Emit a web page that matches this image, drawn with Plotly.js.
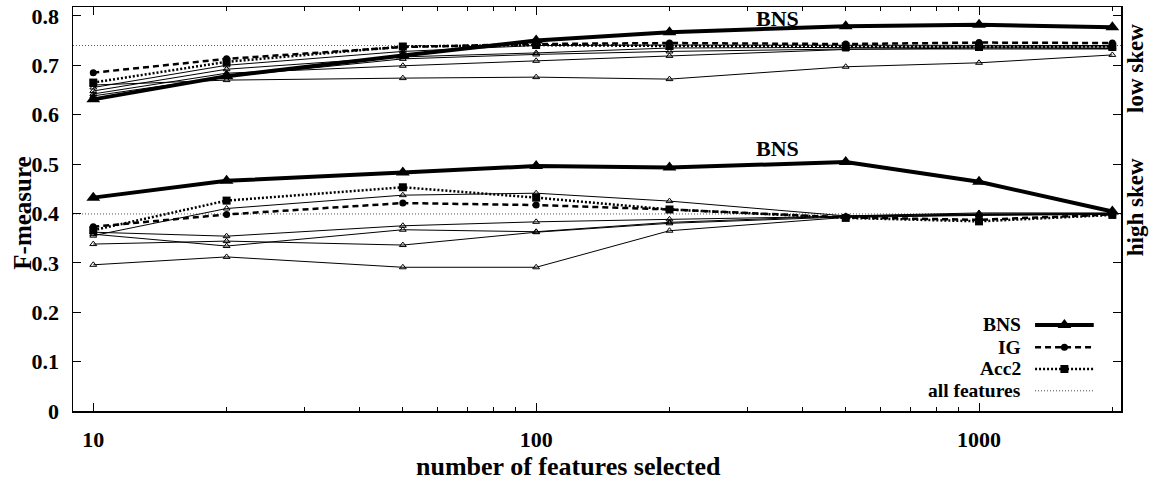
<!DOCTYPE html>
<html>
<head>
<meta charset="utf-8">
<script src="https://cdn.plot.ly/plotly-3.0.1.min.js"></script>
<style>html,body{margin:0;padding:0;background:#fff;}#chart{width:1149px;height:480px;}</style>
</head>
<body>
<div id="chart"></div>
<script>
// ---- data ----
var features = [10, 20, 50, 100, 200, 500, 1000, 2000];

// low skew
var bnsLow  = [0.631, 0.678, 0.720, 0.750, 0.767, 0.779, 0.782, 0.777];
var igLow   = [0.685, 0.713, 0.737, 0.743, 0.745, 0.743, 0.746, 0.745];
var acc2Low = [0.665, 0.707, 0.738, 0.741, 0.739, 0.738, 0.737, 0.738];
var otherLow1 = [0.655, 0.700, 0.728, 0.740, 0.741, 0.740, 0.740, 0.740];
var otherLow2 = [0.648, 0.692, 0.717, 0.725, 0.735, 0.737, 0.737, 0.737];
var otherLow3 = [0.642, 0.684, 0.699, 0.709, 0.719, 0.732, 0.735, 0.734];
var otherLow4 = [0.638, 0.677, 0.713, 0.722, 0.728, 0.733, 0.733, 0.733];
var otherLow5 = [0.660, 0.670, 0.674, 0.676, 0.672, 0.697, 0.705, 0.721];
var allFeaturesLow = 0.740;

// high skew
var bnsHigh  = [0.432, 0.466, 0.483, 0.496, 0.493, 0.504, 0.464, 0.404];
var igHigh   = [0.373, 0.398, 0.421, 0.417, 0.408, 0.392, 0.387, 0.398];
var acc2High = [0.366, 0.426, 0.453, 0.432, 0.408, 0.391, 0.384, 0.397];
var otherHigh1 = [0.355, 0.410, 0.437, 0.441, 0.425, 0.395, 0.401, 0.401];
var otherHigh2 = [0.362, 0.354, 0.375, 0.383, 0.388, 0.394, 0.399, 0.400];
var otherHigh3 = [0.358, 0.334, 0.367, 0.363, 0.382, 0.395, 0.398, 0.399];
var otherHigh4 = [0.338, 0.344, 0.336, 0.362, 0.380, 0.393, 0.397, 0.399];
var otherHigh5 = [0.296, 0.312, 0.291, 0.291, 0.365, 0.392, 0.396, 0.398];
var allFeaturesHigh = 0.399;

var legendNames = ["BNS", "IG", "Acc2", "all features"];
var yTicks = [0, 0.1, 0.2, 0.3, 0.4, 0.5, 0.6, 0.7, 0.8];
var xTicks = [10, 100, 1000];
var xMinor = [20,30,40,50,60,70,80,90,200,300,400,500,600,700,800,900,2000];

// ---- styles ----
var FONT = "Liberation Serif, Times New Roman, serif";
var thinStyle = {mode:"lines+markers", line:{color:"#000", width:1},
  marker:{symbol:"triangle-up-open", size:6, color:"#000", line:{width:1, color:"#000"}}, showlegend:false, hoverinfo:"skip"};
var bnsStyle = {mode:"lines+markers", line:{color:"#000", width:4},
  marker:{symbol:"triangle-up", size:12, color:"#000"}, showlegend:false};
var igStyle = {mode:"lines+markers", line:{color:"#000", width:2.5, dash:"6px,4px"},
  marker:{symbol:"circle", size:7, color:"#000"}, showlegend:false};
var acc2Style = {mode:"lines+markers", line:{color:"#000", width:2.5, dash:"2px,2px"},
  marker:{symbol:"square", size:8, color:"#000"}, showlegend:false};

function tr(y, style){ var t = JSON.parse(JSON.stringify(style)); t.x = features; t.y = y; t.type="scatter"; return t; }

var traces = [];
[otherLow1, otherLow2, otherLow3, otherLow4, otherLow5,
 otherHigh1, otherHigh2, otherHigh3, otherHigh4, otherHigh5].forEach(function(a){ traces.push(tr(a, thinStyle)); });
traces.push(tr(igLow, igStyle));
traces.push(tr(acc2Low, acc2Style));
traces.push(tr(igHigh, igStyle));
traces.push(tr(acc2High, acc2Style));
traces.push(tr(bnsLow, bnsStyle));
traces.push(tr(bnsHigh, bnsStyle));
// empty trace so the minor-tick overlay axis is drawn
traces.push({type:"scatter", mode:"lines", x:[], y:[], xaxis:"x3", yaxis:"y", showlegend:false, hoverinfo:"skip"});

// custom legend (text on left, sample on right) drawn on an overlay axis in [0,1]
var legRowsY = [0.213, 0.158, 0.104, 0.050];
var legX0 = 0.918, legX1 = 0.974, legXm = 0.946;
var legStyles = [bnsStyle, igStyle, acc2Style, null];
var annotations = [];
legendNames.forEach(function(name, i){
  var y = legRowsY[i];
  if (legStyles[i]) {
    var s = legStyles[i];
    traces.push({type:"scatter", mode:"lines", x:[legX0, legX1], y:[y, y], xaxis:"x2", yaxis:"y2",
      line:s.line, showlegend:false, hoverinfo:"skip"});
    traces.push({type:"scatter", mode:"markers", x:[legXm], y:[y], xaxis:"x2", yaxis:"y2",
      marker:s.marker, showlegend:false, hoverinfo:"skip"});
  } else {
    traces.push({type:"scatter", mode:"lines", x:[legX0, legX1], y:[y, y], xaxis:"x2", yaxis:"y2",
      line:{color:"#444", width:1, dash:"1px,2px"}, showlegend:false, hoverinfo:"skip"});
  }
  annotations.push({xref:"paper", yref:"paper", x:0.906, y:y, xanchor:"right", yanchor:"middle",
    text:name, showarrow:false, borderpad:0, font:{family:FONT, size:19.5, color:"#000", weight:"bold"}});
});

annotations.push({xref:"x", yref:"y", x:Math.log10(350), y:0.794, text:"BNS", showarrow:false,
  xanchor:"center", yanchor:"middle", font:{family:FONT, size:22, color:"#000", weight:"bold"}});
annotations.push({xref:"x", yref:"y", x:Math.log10(350), y:0.531, text:"BNS", showarrow:false,
  xanchor:"center", yanchor:"middle", font:{family:FONT, size:22, color:"#000", weight:"bold"}});
annotations.push({xref:"paper", yref:"paper", x:1.0145, y:0.847, text:"low skew", textangle:-90, showarrow:false,
  borderpad:0, xanchor:"center", yanchor:"middle", font:{family:FONT, size:23, color:"#000", weight:"bold"}});
annotations.push({xref:"paper", yref:"paper", x:1.0145, y:0.505, text:"high skew", textangle:-90, showarrow:false,
  borderpad:0, xanchor:"center", yanchor:"middle", font:{family:FONT, size:23, color:"#000", weight:"bold"}});
annotations.push({xref:"paper", yref:"paper", x:0.473, y:-0.138, xanchor:"center", yanchor:"middle",
  text:"number of features selected", showarrow:false,
  font:{family:FONT, size:26, color:"#000", weight:"bold"}});
annotations.push({xref:"paper", yref:"paper", x:-0.049, y:0.49, xanchor:"center", yanchor:"middle",
  text:"F-measure", textangle:-90, showarrow:false,
  font:{family:FONT, size:25, color:"#000", weight:"bold"}});

var shapes = [allFeaturesLow, allFeaturesHigh].map(function(v){
  return {type:"line", xref:"paper", yref:"y", x0:0, x1:1, y0:v, y1:v,
    line:{color:"#555", width:1, dash:"1px,2px"}, layer:"below"};
});

var xRange = [Math.log10(9), Math.log10(2092)];
var layout = {
  width:1149, height:480,
  margin:{l:73, r:28, t:7, b:69},
  paper_bgcolor:"#fff", plot_bgcolor:"#fff",
  showlegend:false,
  font:{family:FONT, color:"#000"},
  xaxis:{type:"log", range:xRange,
    tickvals:xTicks, ticktext:xTicks.map(String), ticks:"inside", ticklen:8, tickwidth:1, tickcolor:"#000",
    showgrid:false, zeroline:false, showline:true, linecolor:"#000", linewidth:1.5, mirror:"ticks",
    tickfont:{family:FONT, size:22, color:"#000", weight:"bold"}, ticklabelstandoff:8},
  xaxis3:{type:"log", overlaying:"x", range:xRange, tickvals:xMinor, ticks:"inside", ticklen:4, tickwidth:1,
    tickcolor:"#000", showticklabels:false, showgrid:false, zeroline:false, showline:false, mirror:"ticks",
    fixedrange:true},
  yaxis:{range:[0, 0.818], tickvals:yTicks, ticktext:yTicks.map(function(v){return v===0?"0":String(v);}),
    ticks:"inside", ticklen:8, tickwidth:1, tickcolor:"#000",
    showgrid:false, zeroline:false, showline:true, linecolor:"#000", linewidth:1.5, mirror:"ticks",
    tickfont:{family:FONT, size:22, color:"#000", weight:"bold"}, ticklabelstandoff:8},
  xaxis2:{overlaying:"x", range:[0,1], visible:false, fixedrange:true},
  yaxis2:{overlaying:"y", range:[0,1], visible:false, fixedrange:true},
  annotations:annotations,
  shapes:shapes
};

Plotly.newPlot("chart", traces, layout, {displayModeBar:false, staticPlot:true});
</script>
</body>
</html>
